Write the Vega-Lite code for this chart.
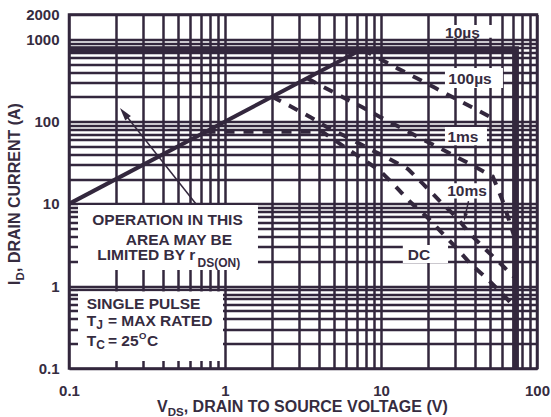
{
  "$schema": "https://vega.github.io/schema/vega-lite/v6.json",
  "width": 468,
  "height": 354,
  "autosize": {"type": "none"},
  "padding": {"left": 69, "top": 14.5, "right": 14, "bottom": 48.5},
  "background": "white",
  "config": {"view": {"stroke": "#33273d", "strokeWidth": 2.5}},
  "datasets": {
    "solid": [{"V": 0.1, "I": 10}, {"V": 7.5, "I": 750}],
    "limit": [{"k": 1, "V": 0.1, "I": 750}, {"k": 2, "V": 73, "I": 750}, {"k": 3, "V": 73, "I": 0.1}],
    "dash": [
      {"c": "100us", "V": 7.6, "I": 750}, {"c": "100us", "V": 12.85, "I": 440}, {"c": "100us", "V": 17, "I": 336}, {"c": "100us", "V": 22.2, "I": 257}, {"c": "100us", "V": 28.9, "I": 197}, {"c": "100us", "V": 38.3, "I": 149}, {"c": "100us", "V": 50, "I": 114}, {"c": "100us", "V": 52, "I": 110},
      {"c": "1ms", "V": 3.36, "I": 336}, {"c": "1ms", "V": 4.4, "I": 256}, {"c": "1ms", "V": 5.7, "I": 198}, {"c": "1ms", "V": 7.55, "I": 150}, {"c": "1ms", "V": 9.85, "I": 114}, {"c": "1ms", "V": 13.25, "I": 85}, {"c": "1ms", "V": 17.3, "I": 65}, {"c": "1ms", "V": 22.9, "I": 49.5}, {"c": "1ms", "V": 30.7, "I": 37}, {"c": "1ms", "V": 40, "I": 28.3}, {"c": "1ms", "V": 52, "I": 21.5}, {"c": "1ms", "V": 59.6, "I": 11.5}, {"c": "1ms", "V": 66.1, "I": 6.4}, {"c": "1ms", "V": 71, "I": 4.2},
      {"c": "10ms", "V": 2.0, "I": 200}, {"c": "10ms", "V": 2.61, "I": 155}, {"c": "10ms", "V": 3.51, "I": 114}, {"c": "10ms", "V": 4.57, "I": 84}, {"c": "10ms", "V": 6.14, "I": 64}, {"c": "10ms", "V": 8.25, "I": 47.5}, {"c": "10ms", "V": 11.25, "I": 35.5}, {"c": "10ms", "V": 14.9, "I": 26.5}, {"c": "10ms", "V": 18.6, "I": 17.5}, {"c": "10ms", "V": 23.5, "I": 11.1}, {"c": "10ms", "V": 30.3, "I": 6.93}, {"c": "10ms", "V": 37.2, "I": 4.33}, {"c": "10ms", "V": 46.4, "I": 2.84}, {"c": "10ms", "V": 59.6, "I": 1.81}, {"c": "10ms", "V": 71, "I": 1.3},
      {"c": "DC", "V": 0.75, "I": 75}, {"c": "DC", "V": 4.2, "I": 75}, {"c": "DC", "V": 9.85, "I": 25.3}, {"c": "DC", "V": 12.3, "I": 16.6}, {"c": "DC", "V": 15.35, "I": 10.6}, {"c": "DC", "V": 19.6, "I": 6.99}, {"c": "DC", "V": 24.7, "I": 4.4}, {"c": "DC", "V": 30.55, "I": 2.89}, {"c": "DC", "V": 38.1, "I": 1.81}, {"c": "DC", "V": 47.6, "I": 1.25}, {"c": "DC", "V": 59.4, "I": 0.82}, {"c": "DC", "V": 65.2, "I": 0.68}, {"c": "DC", "V": 71, "I": 0.57}
    ],
    "boxes": [
      {"V": 24.6, "V2": 56.2, "I": 1040, "I2": 1493},
      {"V": 25.7, "V2": 60.5, "I": 256, "I2": 448},
      {"V": 25.7, "V2": 47.8, "I": 51.5, "I2": 86},
      {"V": 25.7, "V2": 47.8, "I": 11.6, "I2": 17.8},
      {"V": 13.8, "V2": 26.9, "I": 1.91, "I2": 3.17},
      {"V": 0.1142, "V2": 1.627, "I": 1.57, "I2": 9.7},
      {"V": 0.1142, "V2": 0.971, "I": 0.1233, "I2": 0.86}
    ],
    "arrows": [
      {"V": 0.652, "I": 9.97, "V2": 0.2253, "I2": 126.9},
      {"V": 36.4, "I": 10.8, "V2": 34.5, "I2": 6.91}
    ],
    "head1": [{"V": 0.2253, "I": 126.9}],
    "head2": [{"V": 34.5, "I": 6.91}],
    "txt": [
      {"g": "lab", "t": "10µs", "V": 33.3, "I": 1035},
      {"g": "lab", "t": "100µs", "V": 37.2, "I": 287.5},
      {"g": "lab", "t": "1ms", "V": 33.5, "I": 56.1},
      {"g": "lab", "t": "10ms", "V": 35.6, "I": 12.35},
      {"g": "lab", "t": "DC", "V": 17.5, "I": 2.108},
      {"g": "mainc", "t": "OPERATION IN THIS", "V": 0.428, "I": 5.503},
      {"g": "mainc", "t": "AREA MAY BE", "V": 0.507, "I": 3.208},
      {"g": "main", "t": "LIMITED BY r", "V": 0.1518, "I": 2.108},
      {"g": "sub", "t": "DS(ON)", "V": 0.6664, "I": 1.712},
      {"g": "main", "t": "SINGLE PULSE", "V": 0.1299, "I": 0.5352},
      {"g": "main", "t": "T", "V": 0.1299, "I": 0.3325},
      {"g": "sub", "t": "J", "V": 0.1494, "I": 0.2978},
      {"g": "main", "t": "= MAX RATED", "V": 0.1778, "I": 0.3325},
      {"g": "main", "t": "T", "V": 0.1299, "I": 0.1901},
      {"g": "sub", "t": "C", "V": 0.1494, "I": 0.1702},
      {"g": "main", "t": "= 25", "V": 0.1778, "I": 0.1901},
      {"g": "sup", "t": "O", "V": 0.2812, "I": 0.2283},
      {"g": "main", "t": "C", "V": 0.3163, "I": 0.1901},
      {"g": "yt1", "t": "I", "V": 0.04853, "I": 1.034},
      {"g": "yt2", "t": "D", "V": 0.04853, "I": 1.034},
      {"g": "yt3", "t": ", DRAIN CURRENT (A)", "V": 0.04853, "I": 1.034},
      {"g": "xt1", "t": "V", "V": 0.3665, "I": 0.02936},
      {"g": "xt2", "t": "DS", "V": 0.3665, "I": 0.02936},
      {"g": "xt3", "t": ", DRAIN TO SOURCE VOLTAGE (V)", "V": 0.3665, "I": 0.02936}
    ]
  },
  "encoding": {
    "x": {
      "field": "V", "type": "quantitative",
      "scale": {"type": "log", "domain": [0.1, 100], "nice": false},
      "axis": {
        "title": null,
        "values": [0.1, 0.2, 0.3, 0.4, 0.5, 0.6, 0.7, 0.8, 0.9, 1, 2, 3, 4, 5, 6, 7, 8, 9, 10, 20, 30, 40, 50, 60, 70, 80, 90, 100],
        "grid": true, "gridColor": "#33273d", "gridWidth": 2.5, "gridOpacity": 1,
        "ticks": false, "domain": false,
        "labelExpr": "indexof([0.1, 1, 10, 100], datum.value) >= 0 ? format(datum.value, '~g') : ''",
        "labelFont": "Liberation Sans", "labelFontWeight": "bold", "labelFontSize": 15, "labelColor": "#362c3f",
        "labelPadding": 15, "labelFlush": false, "labelOverlap": false, "labelBound": false
      }
    },
    "y": {
      "field": "I", "type": "quantitative",
      "scale": {"type": "log", "domain": [0.1, 2000], "nice": false},
      "axis": {
        "title": null,
        "values": [0.1, 0.2, 0.3, 0.4, 0.5, 0.6, 0.7, 0.8, 0.9, 1, 2, 3, 4, 5, 6, 7, 8, 9, 10, 20, 30, 40, 50, 60, 70, 80, 90, 100, 200, 300, 400, 500, 600, 700, 800, 900, 1000, 2000],
        "grid": true, "gridColor": "#33273d", "gridWidth": 2.5, "gridOpacity": 1,
        "ticks": false, "domain": false,
        "labelExpr": "indexof([0.1, 1, 10, 100, 1000, 2000], datum.value) >= 0 ? format(datum.value, '~g') : ''",
        "labelFont": "Liberation Sans", "labelFontWeight": "bold", "labelFontSize": 15, "labelColor": "#362c3f",
        "labelPadding": 10, "labelFlush": false, "labelOverlap": false, "labelBound": false
      }
    }
  },
  "layer": [
    {"data": {"name": "boxes"}, "mark": {"type": "rect", "fill": "white", "strokeWidth": 0}, "encoding": {"x2": {"field": "V2"}, "y2": {"field": "I2"}}},
    {"data": {"name": "solid"}, "mark": {"type": "line", "color": "#33273d", "strokeWidth": 4, "strokeCap": "butt"}, "encoding": {}},
    {"data": {"name": "limit"}, "mark": {"type": "line", "color": "#33273d", "strokeWidth": 6.5, "strokeCap": "butt", "strokeJoin": "miter"}, "encoding": {"order": {"field": "k", "type": "quantitative"}}},
    {"data": {"name": "dash"}, "mark": {"type": "line", "color": "#33273d", "strokeWidth": 4, "strokeDash": [10, 9], "strokeCap": "butt"}, "encoding": {"detail": {"field": "c"}}},
    {"data": {"name": "arrows"}, "mark": {"type": "rule", "color": "#33273d", "strokeWidth": 1.5}, "encoding": {"x2": {"field": "V2"}, "y2": {"field": "I2"}}},
    {"data": {"name": "head1"}, "mark": {"type": "point", "shape": "M0,-1L0.55,1L-0.55,1Z", "angle": 321.6, "size": 169, "filled": true, "color": "#33273d", "opacity": 1}},
    {"data": {"name": "head2"}, "mark": {"type": "point", "shape": "M0,-1L0.55,1L-0.55,1Z", "angle": 192.7, "size": 64, "filled": true, "color": "#33273d", "opacity": 1}},
    {"data": {"name": "txt"}, "transform": [{"filter": "datum.g == 'lab'"}], "mark": {"type": "text", "font": "Liberation Sans", "fontWeight": "bold", "fontSize": 15.5, "align": "center", "baseline": "alphabetic", "color": "#362c3f"}, "encoding": {"text": {"field": "t"}}},
    {"data": {"name": "txt"}, "transform": [{"filter": "datum.g == 'mainc'"}], "mark": {"type": "text", "font": "Liberation Sans", "fontWeight": "bold", "fontSize": 15.5, "align": "center", "baseline": "alphabetic", "color": "#362c3f"}, "encoding": {"text": {"field": "t"}}},
    {"data": {"name": "txt"}, "transform": [{"filter": "datum.g == 'main'"}], "mark": {"type": "text", "font": "Liberation Sans", "fontWeight": "bold", "fontSize": 15.5, "align": "left", "baseline": "alphabetic", "color": "#362c3f"}, "encoding": {"text": {"field": "t"}}},
    {"data": {"name": "txt"}, "transform": [{"filter": "datum.g == 'sub'"}], "mark": {"type": "text", "font": "Liberation Sans", "fontWeight": "bold", "fontSize": 12, "align": "left", "baseline": "alphabetic", "color": "#362c3f"}, "encoding": {"text": {"field": "t"}}},
    {"data": {"name": "txt"}, "transform": [{"filter": "datum.g == 'sup'"}], "mark": {"type": "text", "font": "Liberation Sans", "fontWeight": "bold", "fontSize": 9.5, "align": "left", "baseline": "alphabetic", "color": "#362c3f"}, "encoding": {"text": {"field": "t"}}},
    {"data": {"name": "txt"}, "transform": [{"filter": "datum.g == 'yt1'"}], "mark": {"type": "text", "font": "Liberation Sans", "fontWeight": "bold", "fontSize": 16, "align": "left", "baseline": "alphabetic", "angle": 270, "color": "#362c3f"}, "encoding": {"text": {"field": "t"}}},
    {"data": {"name": "txt"}, "transform": [{"filter": "datum.g == 'yt2'"}], "mark": {"type": "text", "font": "Liberation Sans", "fontWeight": "bold", "fontSize": 11.5, "align": "left", "baseline": "alphabetic", "angle": 270, "dx": 4.6, "dy": 4, "color": "#362c3f"}, "encoding": {"text": {"field": "t"}}},
    {"data": {"name": "txt"}, "transform": [{"filter": "datum.g == 'yt3'"}], "mark": {"type": "text", "font": "Liberation Sans", "fontWeight": "bold", "fontSize": 16, "align": "left", "baseline": "alphabetic", "angle": 270, "dx": 13, "color": "#362c3f"}, "encoding": {"text": {"field": "t"}}},
    {"data": {"name": "txt"}, "transform": [{"filter": "datum.g == 'xt1'"}], "mark": {"type": "text", "font": "Liberation Sans", "fontWeight": "bold", "fontSize": 16, "align": "left", "baseline": "alphabetic", "color": "#362c3f"}, "encoding": {"text": {"field": "t"}}},
    {"data": {"name": "txt"}, "transform": [{"filter": "datum.g == 'xt2'"}], "mark": {"type": "text", "font": "Liberation Sans", "fontWeight": "bold", "fontSize": 11.5, "align": "left", "baseline": "alphabetic", "dx": 10.7, "dy": 3.5, "color": "#362c3f"}, "encoding": {"text": {"field": "t"}}},
    {"data": {"name": "txt"}, "transform": [{"filter": "datum.g == 'xt3'"}], "mark": {"type": "text", "font": "Liberation Sans", "fontWeight": "bold", "fontSize": 16, "align": "left", "baseline": "alphabetic", "dx": 26.7, "color": "#362c3f"}, "encoding": {"text": {"field": "t"}}}
  ]
}
